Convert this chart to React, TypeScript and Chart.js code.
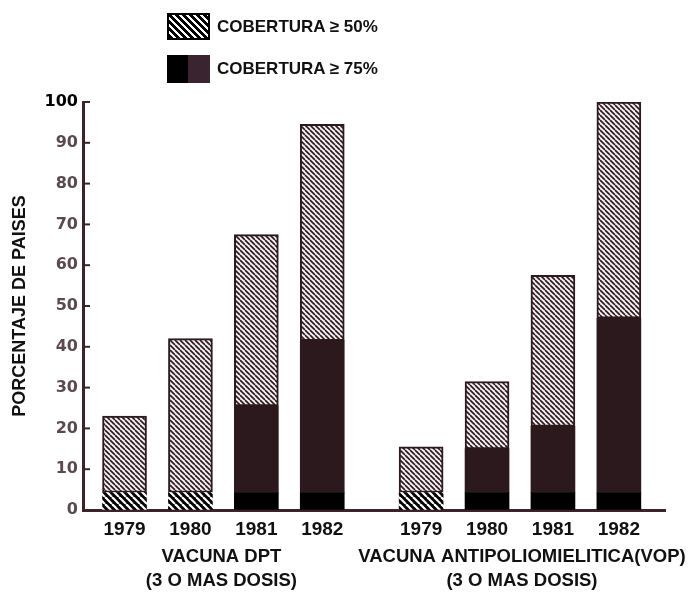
import React, { useEffect, useRef } from 'react';
import { Chart, registerables } from 'chart.js';

Chart.register(...registerables);

// ---- data ----
const positions = [0, 1, 2, 3, 4.5, 5.5, 6.5, 7.5];
const yearLabels = ['1979', '1980', '1981', '1982', '1979', '1980', '1981', '1982'];
const coverage50 = [23, 42, 67.5, 94.5, 15.5, 31.5, 57.5, 100];
const coverage75 = [0, 0, 25.5, 41.5, 0, 15, 20.5, 47];
const bandTop = 4.3;
const groupCenters = [1.47, 6.03];
const groupTitles = ['VACUNA DPT', 'VACUNA ANTIPOLIOMIELITICA(VOP)'];
const groupSubtitles = ['(3 O MAS DOSIS)', '(3 O MAS DOSIS)'];
const legendLabels = ['COBERTURA \u2265 50%', 'COBERTURA \u2265 75%'];
const yTitle = 'PORCENTAJE DE PAISES';

const DARK = '#2b191e';
const AXIS = '#3b2329';

function makePattern(size: number, bg: string, fg: string, lw: number) {
  const c = document.createElement('canvas');
  c.width = size;
  c.height = size;
  const g = c.getContext('2d')!;
  g.fillStyle = bg;
  g.fillRect(0, 0, size, size);
  g.strokeStyle = fg;
  g.lineWidth = lw;
  for (let k = -1; k <= 1; k++) {
    g.beginPath();
    g.moveTo(k * size, 0);
    g.lineTo(k * size + size, size);
    g.stroke();
  }
  return g.createPattern(c, 'repeat')!;
}

export default function App() {
  const ref = useRef<HTMLCanvasElement>(null);

  useEffect(() => {
    document.body.style.margin = '0';
    const canvas = ref.current!;
    const hatch = makePattern(5, '#f3eff1', DARK, 1.6);
    const bandHatch = makePattern(7, '#000', '#fff', 2.2);

    const bandData = positions.map((x) => ({ x, y: [0, bandTop] }));
    const darkData = positions
      .map((x, i) => ({ x, y: [bandTop, coverage75[i]] }))
      .filter((_, i) => coverage75[i] > bandTop);
    const hatchData = positions.map((x, i) => ({
      x,
      y: [Math.max(bandTop, coverage75[i]), coverage50[i]],
    }));

    const groupPlugin = {
      id: 'groupLabels',
      afterDraw(chart: any) {
        const { ctx } = chart;
        const xs = chart.scales.x;
        const ys = chart.scales.y;
        ctx.save();
        // inner ticks on y axis
        ctx.strokeStyle = AXIS;
        ctx.lineWidth = 2;
        ys.ticks.forEach((t: any) => {
          if (t.value === 0) return;
          const py = ys.getPixelForValue(t.value);
          ctx.beginPath();
          ctx.moveTo(ys.right, py);
          ctx.lineTo(ys.right + 7, py);
          ctx.stroke();
        });
        ctx.fillStyle = '#111';
        ctx.textAlign = 'center';
        ctx.textBaseline = 'middle';
        ctx.font = 'bold 18.5px "Liberation Sans", Arial, sans-serif';
        groupCenters.forEach((c, i) => {
          const px = xs.getPixelForValue(c);
          ctx.fillText(groupTitles[i], px, xs.top + 47);
          ctx.fillText(groupSubtitles[i], px, xs.top + 71);
        });
        ctx.restore();
      },
    };

    const chart = new Chart(canvas, {
      type: 'bar',
      data: {
        datasets: [
          {
            label: 'band',
            data: bandData as any,
            backgroundColor: positions.map((_, i) => (coverage75[i] > 0 ? '#000' : bandHatch)) as any,
            borderWidth: 0,
            barThickness: 44,
            grouped: false,
          },
          {
            label: legendLabels[1],
            data: darkData as any,
            backgroundColor: DARK,
            borderWidth: 0,
            barThickness: 44,
            grouped: false,
          },
          {
            label: legendLabels[0],
            data: hatchData as any,
            backgroundColor: hatch as any,
            borderColor: DARK,
            borderWidth: 2,
            borderSkipped: false,
            barThickness: 44,
            grouped: false,
          },
        ],
      },
      options: {
        animation: false,
        responsive: false,
        layout: { padding: { left: 0, right: 24, top: 102, bottom: 0 } },
        plugins: { legend: { display: false }, tooltip: { enabled: false } },
        scales: {
          x: {
            type: 'linear',
            offset: false,
            min: -0.63,
            max: 8.2,
            afterBuildTicks: (scale: any) => {
              scale.ticks = positions.map((v) => ({ value: v }));
            },
            afterFit: (scale: any) => {
              scale.height = 82;
            },
            ticks: {
              autoSkip: false,
              maxRotation: 0,
              padding: 8,
              color: '#111',
              font: { family: '"Liberation Sans", Arial, sans-serif', size: 19, weight: 'bold' },
              callback: (_v: any, i: number) => yearLabels[i],
            },
            grid: { display: true, drawOnChartArea: false, drawTicks: false, color: AXIS },
            border: { display: true, color: AXIS, width: 3 },
          },
          y: {
            min: 0,
            max: 100,
            afterFit: (scale: any) => {
              scale.width = 83;
            },
            ticks: {
              stepSize: 10,
              padding: 5,
              color: (ctx: any) => (ctx.tick && ctx.tick.value === 100 ? '#000' : '#5a4a4f'),
              font: { family: '"DejaVu Sans", sans-serif', size: 16, weight: 'bold' },
            },
            grid: { display: true, drawOnChartArea: false, drawTicks: false, color: AXIS },
            border: { display: true, color: AXIS, width: 3 },
            title: {
              display: true,
              text: yTitle,
              color: '#111',
              padding: { top: 9, bottom: 0 },
              font: { family: '"Liberation Sans", Arial, sans-serif', size: 18, weight: 'bold' },
            },
          },
        },
      },
      plugins: [groupPlugin],
    });
    return () => chart.destroy();
  }, []);

  const legendText: React.CSSProperties = {
    position: 'absolute',
    left: 217,
    font: 'bold 17px "Liberation Sans", Arial, sans-serif',
    color: '#111',
    lineHeight: '20px',
    whiteSpace: 'nowrap',
  };

  return (
    <div style={{ position: 'relative', width: 689, height: 592, background: '#fff' }}>
      <canvas ref={ref} width={689} height={592} style={{ position: 'absolute', left: 0, top: 0 }} />
      <div
        style={{
          position: 'absolute',
          left: 167,
          top: 13,
          width: 39,
          height: 23,
          border: '2px solid #000',
          background: 'repeating-linear-gradient(45deg, #000 0px, #000 3px, #fff 3px, #fff 5px)',
        }}
      />
      <div style={{ ...legendText, top: 17 }}>{legendLabels[0]}</div>
      <div
        style={{
          position: 'absolute',
          left: 167,
          top: 55,
          width: 43,
          height: 28,
          background: 'linear-gradient(90deg, #000 0px, #000 21px, #3a2430 21px, #3a2430 43px)',
        }}
      />
      <div style={{ ...legendText, top: 59 }}>{legendLabels[1]}</div>
    </div>
  );
}
